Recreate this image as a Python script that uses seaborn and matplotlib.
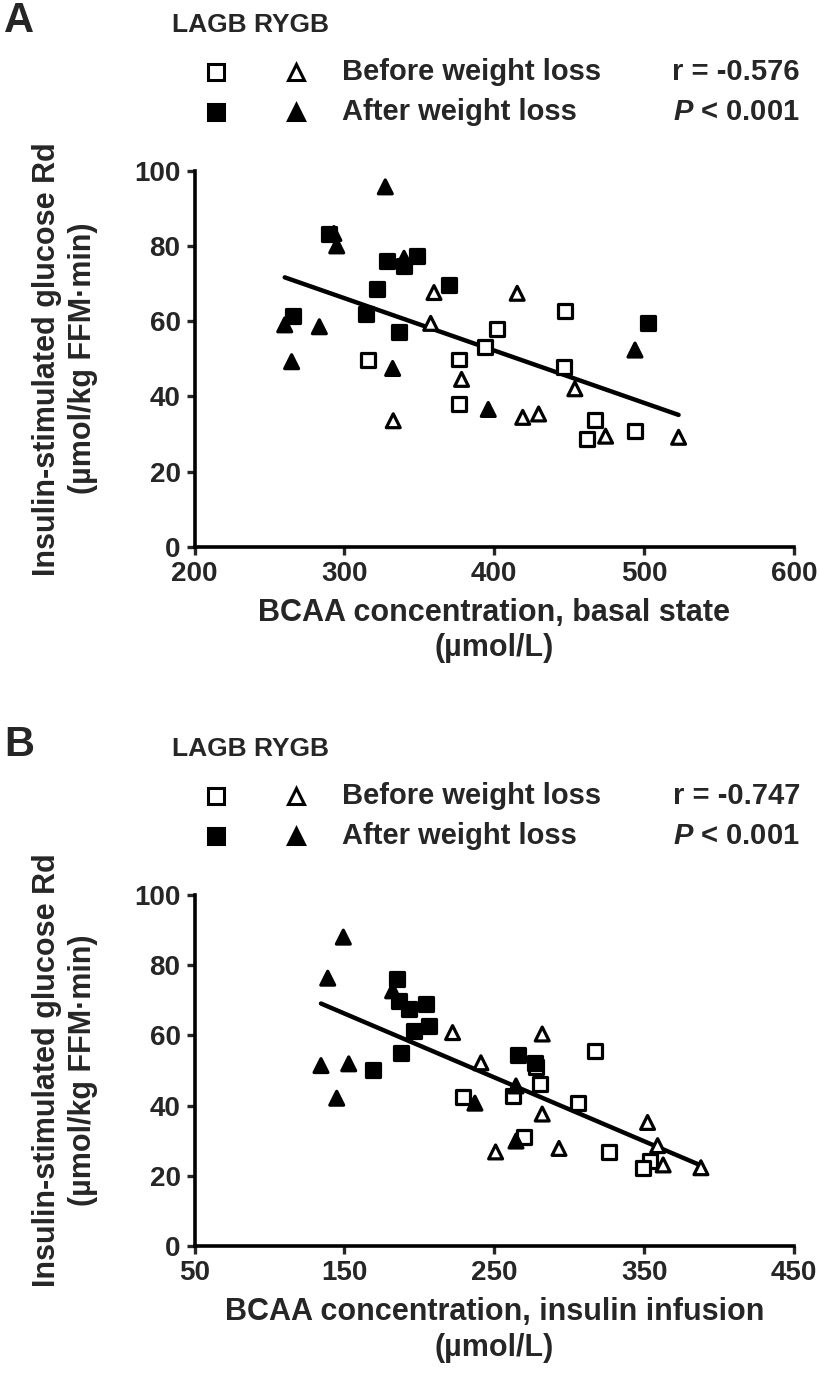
import numpy as np
import pandas as pd
import matplotlib as mpl
mpl.use("Agg")
import matplotlib.pyplot as plt
from matplotlib.lines import Line2D
from matplotlib import font_manager as fm
import seaborn as sns

# -----------------------
# data (BCAA umol/L, Rd umol/kg FFM.min)
# -----------------------
# panel A: basal state
a_lagb_before_x = [393.8, 315.5, 376.7, 447.2, 401.6, 446.5, 376.7, 467.2, 462.0, 493.9]
a_lagb_before_y = [53.2, 49.7, 49.8, 62.7, 58.0, 47.7, 37.9, 33.7, 28.6, 30.8]
a_lagb_after_x = [290.0, 328.2, 339.8, 348.2, 321.5, 370.0, 265.5, 314.4, 336.6, 502.3]
a_lagb_after_y = [83.2, 76.1, 74.7, 77.3, 68.5, 69.5, 61.4, 61.9, 57.2, 59.4]
a_rygb_before_x = [359.8, 357.6, 415.3, 378.2, 332.6, 419.0, 429.6, 453.8, 474.3, 523.0]
a_rygb_before_y = [67.6, 59.4, 67.4, 44.5, 33.5, 34.4, 35.3, 42.0, 29.4, 29.1]
a_rygb_after_x = [327.3, 293.0, 294.9, 339.8, 260.2, 283.3, 264.8, 332.2, 396.0, 493.9]
a_rygb_after_y = [95.7, 83.3, 80.0, 76.7, 59.0, 58.5, 49.2, 47.4, 36.5, 52.3]

# panel B: insulin infusion
b_lagb_before_x = [229.3, 317.2, 277.8, 280.5, 262.3, 305.6, 270.0, 326.5, 353.9, 349.4]
b_lagb_before_y = [42.5, 55.6, 51.1, 46.1, 42.7, 40.8, 31.1, 26.9, 24.2, 22.1]
b_lagb_after_x = [185.3, 186.6, 193.3, 204.2, 196.4, 206.6, 187.8, 168.9, 265.6, 277.2]
b_lagb_after_y = [76.0, 69.9, 67.4, 68.9, 61.3, 62.7, 54.9, 50.1, 54.4, 52.2]
b_rygb_before_x = [222.2, 241.1, 282.0, 282.0, 352.3, 250.9, 293.2, 359.0, 362.7, 387.9]
b_rygb_before_y = [60.8, 52.2, 60.4, 37.6, 35.2, 26.8, 27.8, 28.6, 23.1, 22.3]
b_rygb_after_x = [149.3, 138.9, 182.2, 134.4, 152.9, 144.9, 237.1, 264.5, 264.5]
b_rygb_after_y = [88.0, 76.3, 72.7, 51.4, 51.9, 42.1, 40.7, 45.6, 29.9]

groups = ["LAGB before", "LAGB after", "RYGB before", "RYGB after"]
a_stats = ["r = -0.576", "$P$ < 0.001"]
b_stats = ["r = -0.747", "$P$ < 0.001"]
a_xlabel = "BCAA concentration, basal state\n(\u00b5mol/L)"
b_xlabel = "BCAA concentration, insulin infusion\n(\u00b5mol/L)"
ylabel = "Insulin-stimulated glucose Rd\n(\u00b5mol/kg FFM\u00b7min)"
a_xticks = [200, 300, 400, 500, 600]
b_xticks = [50, 150, 250, 350, 450]
yticks = [0, 20, 40, 60, 80, 100]


def make_df(xs, ys):
    rows = []
    for g, x, y in zip(groups, xs, ys):
        for xi, yi in zip(x, y):
            rows.append({"bcaa": xi, "rd": yi, "group": g})
    return pd.DataFrame(rows)


df_a = make_df([a_lagb_before_x, a_lagb_after_x, a_rygb_before_x, a_rygb_after_x],
               [a_lagb_before_y, a_lagb_after_y, a_rygb_before_y, a_rygb_after_y])
df_b = make_df([b_lagb_before_x, b_lagb_after_x, b_rygb_before_x, b_rygb_after_x],
               [b_lagb_before_y, b_lagb_after_y, b_rygb_before_y, b_rygb_after_y])

# -----------------------
# style (narrow bold font if available, like the journal figure)
# -----------------------
sns.set_theme(style="ticks")
installed = {f.name for f in fm.fontManager.ttflist}
narrow = "Liberation Sans Narrow" in installed
base_font = "Liberation Sans Narrow" if narrow else "Liberation Sans"
k = 1.12 if narrow else 1.0  # narrow glyphs need a bit more size

plt.rcParams["font.family"] = [base_font, "DejaVu Sans"]
plt.rcParams["font.weight"] = "bold"
plt.rcParams["axes.labelweight"] = "bold"
plt.rcParams["mathtext.fontset"] = "custom"
plt.rcParams["mathtext.it"] = base_font + ":italic:bold"
plt.rcParams["mathtext.rm"] = base_font + ":bold"

W, H = 819, 1385
fig = plt.figure(figsize=(W / 100, H / 100), dpi=100)

palette = {"LAGB before": "white", "LAGB after": "black",
           "RYGB before": "white", "RYGB after": "black"}
markers = {"LAGB before": "s", "LAGB after": "s",
           "RYGB before": "^", "RYGB after": "^"}


def fx(px):
    return px / W


def fy(py):
    return 1 - py / H


def draw_panel(df, letter, stats, xlabel, xticks, ax_top, ax_bottom):
    ax = fig.add_axes([fx(194.5), fy(ax_bottom), (794 - 194.5) / W, (ax_bottom - ax_top) / H])

    sns.regplot(data=df, x="bcaa", y="rd", scatter=False, ci=None, truncate=True,
                color="black", line_kws={"linewidth": 3.2, "zorder": 2}, ax=ax)
    sns.scatterplot(data=df, x="bcaa", y="rd", hue="group", style="group",
                    palette=palette, markers=markers, s=100, edgecolor="black",
                    linewidth=2.3, legend=False, zorder=3, ax=ax)

    ax.set_xlim(xticks[0], xticks[-1])
    ax.set_ylim(0, 100)
    ax.set_xticks(xticks)
    ax.set_yticks(yticks)
    ax.tick_params(direction="out", length=6, width=2.4, labelsize=20 * k, pad=4)
    for lab in ax.get_xticklabels() + ax.get_yticklabels():
        lab.set_fontweight("bold")
    sns.despine(ax=ax)
    for side in ["left", "bottom"]:
        ax.spines[side].set_linewidth(2.6)
        ax.spines[side].set_color("black")
    ax.set_xlabel(xlabel, fontsize=22 * k, fontweight="bold", labelpad=8, linespacing=1.25)
    ax.set_ylabel(ylabel, fontsize=22 * k, fontweight="bold", labelpad=26, linespacing=1.25)

    # header / legend block above the plot
    top = ax_top - 146
    fig.text(fx(4), fy(top - 4), letter, fontsize=30 * k, fontweight="bold", va="center")
    fig.text(fx(172), fy(top), "LAGB RYGB", fontsize=19 * k, fontweight="bold", va="center")
    row1, row2 = top + 47, top + 87
    for yy, fill, label in [(row1, "white", "Before weight loss"),
                            (row2, "black", "After weight loss")]:
        fig.add_artist(Line2D([fx(216)], [fy(yy)], marker="s", markersize=11,
                              mfc=fill, mec="black", mew=2.2, transform=fig.transFigure))
        fig.add_artist(Line2D([fx(296)], [fy(yy)], marker="^", markersize=11,
                              mfc=fill, mec="black", mew=2.2, transform=fig.transFigure))
        fig.text(fx(342), fy(yy), label, fontsize=21 * k, fontweight="bold", va="center")
    fig.text(fx(800), fy(row1), stats[0], fontsize=21 * k, fontweight="bold",
             va="center", ha="right")
    fig.text(fx(800), fy(row2), stats[1], fontsize=21 * k, fontweight="bold",
             va="center", ha="right")
    return ax


draw_panel(df_a, "A", a_stats, a_xlabel, a_xticks, 170.7, 546.7)
draw_panel(df_b, "B", b_stats, b_xlabel, b_xticks, 895.0, 1246.0)

fig.savefig("out.png", dpi=100, facecolor="white")
